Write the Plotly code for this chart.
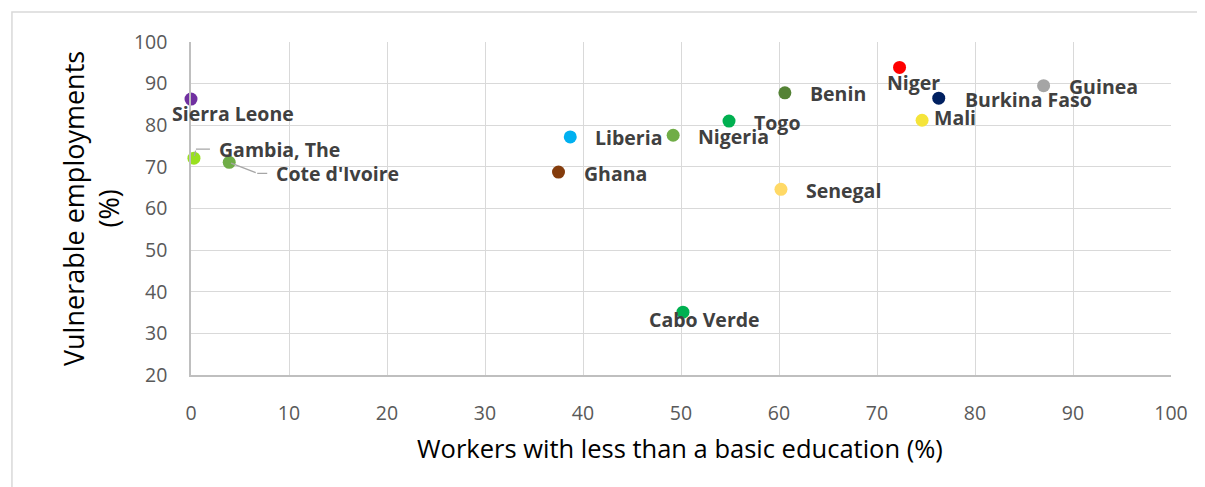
import plotly.graph_objects as go

countries = ["Sierra Leone", "Gambia, The", "Cote d'Ivoire", "Ghana", "Liberia", "Nigeria",
             "Togo", "Benin", "Senegal", "Cabo Verde", "Niger", "Burkina Faso", "Mali", "Guinea"]
basic_edu = [0.0, 0.3, 3.9, 37.5, 38.7, 49.2, 54.9, 60.6, 60.2, 50.2, 72.3, 76.3, 74.6, 87.0]
vulnerable = [86.3, 72.1, 71.1, 68.75, 77.2, 77.6, 81.0, 87.8, 64.6, 35.1, 93.9, 86.5, 81.2, 89.5]
colors = ["#7030A0", "#99E01F", "#70AD47", "#843C0C", "#00B0F0", "#70AD47", "#00B050",
          "#548235", "#FFD966", "#00B050", "#FF0000", "#002060", "#F5E43A", "#A5A5A5"]

x_ticks = [0, 10, 20, 30, 40, 50, 60, 70, 80, 90, 100]
y_ticks = [20, 30, 40, 50, 60, 70, 80, 90, 100]

# label placement: (xanchor, xshift, yshift) in pixels relative to the point
label_pos = {
    "Sierra Leone": ("center", 42, -14),
    "Ghana": ("left", 23, -1),
    "Liberia": ("left", 23, -1),
    "Nigeria": ("left", 23, -1),
    "Togo": ("left", 23, -1),
    "Benin": ("left", 23, -1),
    "Senegal": ("left", 23, -1),
    "Cabo Verde": ("center", 22, -7),
    "Niger": ("center", 14, -15),
    "Burkina Faso": ("left", 24, -1),
    "Mali": ("left", 10, 3),
    "Guinea": ("left", 23, -1),
}

LABEL_FONT = dict(family="Open Sans", size=19.5, color="#404040", weight="bold")
TICK_FONT = dict(family="Open Sans", size=19.5, color="#595959")
XTITLE_FONT = dict(family="Open Sans", size=25.5, color="#000000")
YTITLE_FONT = dict(family="Open Sans", size=27, color="#000000")
GRID = "#D9D9D9"

fig = go.Figure()
fig.add_trace(go.Scatter(
    x=basic_edu, y=vulnerable, mode="markers",
    marker=dict(color=colors, size=13, line=dict(width=0)),
    text=countries, hoverinfo="text", showlegend=False, cliponaxis=False,
))

annotations = []
for name, xv, yv in zip(countries, basic_edu, vulnerable):
    if name in label_pos:
        anc, xs, ys = label_pos[name]
        annotations.append(dict(x=xv, y=yv, xref="x", yref="y", text=name, showarrow=False,
                                xanchor=anc, yanchor="middle", xshift=xs, yshift=ys,
                                font=LABEL_FONT))

# leader lines with elbow for Gambia and Cote d'Ivoire
leaders = {
    "Gambia, The": ((2, -9), 21),
    "Cote d'Ivoire": ((28, 11), 17),
}
for name, ((ax1, ay1), gap) in leaders.items():
    i = countries.index(name)
    xv, yv = basic_edu[i], vulnerable[i]
    annotations.append(dict(x=xv, y=yv, xref="x", yref="y", text="", showarrow=True,
                            arrowhead=0, arrowwidth=1.3, arrowcolor="#A6A6A6",
                            ax=ax1, ay=ay1, standoff=2))
    annotations.append(dict(x=xv, y=yv, xref="x", yref="y", text=name, showarrow=True,
                            arrowhead=0, arrowwidth=1.3, arrowcolor="#A6A6A6",
                            xshift=ax1, yshift=-ay1, ax=gap, ay=0, startstandoff=7,
                            xanchor="left", yanchor="middle", font=LABEL_FONT))

annotations.append(dict(x=0.499, y=-0.2207, xref="paper", yref="paper",
                        text="Workers with less than a basic education (%)", showarrow=False,
                        xanchor="center", yanchor="middle", font=XTITLE_FONT))
annotations.append(dict(x=-0.102, y=0.4985, xref="paper", yref="paper",
                        text="Vulnerable employments<br>(%)", showarrow=False, textangle=-90,
                        xanchor="center", yanchor="middle", font=YTITLE_FONT))

fig.update_layout(
    width=1197, height=479,
    margin=dict(l=183, r=34, t=34, b=112, pad=0),
    paper_bgcolor="white", plot_bgcolor="white",
    annotations=annotations,
    shapes=[dict(type="rect", xref="paper", yref="paper",
                 x0=-0.1827, x1=1.2, y0=-0.6, y1=1.09,
                 line=dict(color=GRID, width=1.5), fillcolor="rgba(0,0,0,0)", layer="below")],
    xaxis=dict(range=[0, 100], tickvals=x_ticks, ticktext=[str(v) for v in x_ticks],
               showgrid=True, gridcolor=GRID, gridwidth=1.3, zeroline=False,
               showline=True, linecolor="#BFBFBF", linewidth=1.5, mirror=False,
               tickfont=TICK_FONT, ticks="", ticklabelstandoff=20),
    yaxis=dict(range=[20, 100], tickvals=y_ticks, ticktext=[str(v) for v in y_ticks],
               showgrid=True, gridcolor=GRID, gridwidth=1.3, zeroline=False,
               showline=True, linecolor="#BFBFBF", linewidth=1.5,
               tickfont=TICK_FONT, ticks="", ticklabelstandoff=18),
)

fig.write_html("out.html")
